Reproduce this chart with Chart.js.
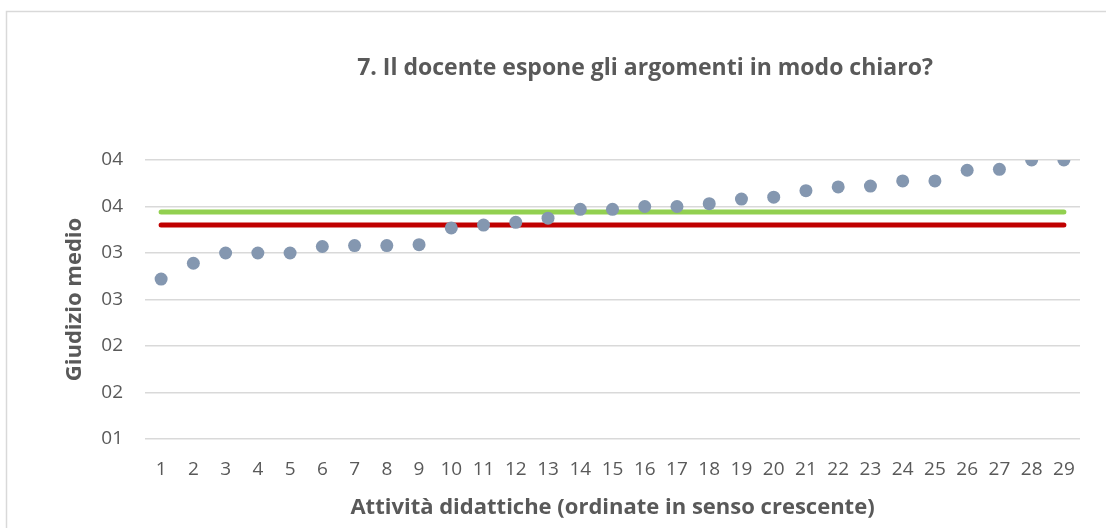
<!DOCTYPE html>
<html>
<head>
<meta charset="utf-8">
<script src="https://cdn.jsdelivr.net/npm/chart.js@4/dist/chart.umd.min.js"></script>
<style>
  html, body { margin: 0; padding: 0; background: #fff; overflow: hidden; }
  #wrap { width: 1106px; height: 528px; position: relative; }
</style>
</head>
<body>
<div id="wrap"><canvas id="chart" width="1106" height="528"></canvas></div>
<script>
// ===== dati =====
const titolo = "7. Il docente espone gli argomenti in modo chiaro?";
const attivita = ["1","2","3","4","5","6","7","8","9","10","11","12","13","14","15",
  "16","17","18","19","20","21","22","23","24","25","26","27","28","29"];
const giudizi = [2.72, 2.89, 3.0, 3.0, 3.0, 3.07, 3.08, 3.08, 3.09, 3.27, 3.30, 3.33, 3.375, 3.47, 3.47,
  3.50, 3.50, 3.53, 3.58, 3.60, 3.67, 3.71, 3.72, 3.775, 3.775, 3.89, 3.90, 4.0, 4.0];
const mediaVerde = 3.44;   // linea verde
const mediaRossa = 3.30;   // linea rossa
const yTicks = [1, 1.5, 2, 2.5, 3, 3.5, 4];

const ctx = document.getElementById("chart");

// cornice + titolo (disegnati sul canvas)
const cornice = {
  id: "cornice",
  beforeDraw(chart) {
    const c = chart.ctx;
    c.save();
    c.strokeStyle = "#d9d9d9";
    c.lineWidth = 1.5;
    c.beginPath();
    c.moveTo(6.5, 528);
    c.lineTo(6.5, 11.5);
    c.lineTo(1106, 11.5);
    c.stroke();
    c.restore();
  },
  afterDraw(chart) {
    const c = chart.ctx;
    c.save();
    c.font = "bold 23px 'Open Sans'";
    c.fillStyle = "#595959";
    c.textAlign = "center";
    c.textBaseline = "middle";
    c.fillText(titolo, 645, 68);
    c.restore();
  }
};

new Chart(ctx, {
  type: "line",
  data: {
    labels: attivita,
    datasets: [
      {
        label: "Giudizio medio",
        data: giudizi,
        showLine: false,
        pointRadius: 6.5,
        pointHoverRadius: 6.5,
        pointBackgroundColor: "#8497b0",
        pointBorderWidth: 0,
        borderColor: "#8497b0"
      },
      {
        label: "Media (verde)",
        data: [{ x: attivita[0], y: mediaVerde }, { x: attivita[attivita.length - 1], y: mediaVerde }],
        borderColor: "#92d050",
        borderWidth: 5,
        borderCapStyle: "round",
        pointRadius: 0
      },
      {
        label: "Media (rossa)",
        data: [{ x: attivita[0], y: mediaRossa }, { x: attivita[attivita.length - 1], y: mediaRossa }],
        borderColor: "#c00000",
        borderWidth: 5,
        borderCapStyle: "round",
        pointRadius: 0
      }
    ]
  },
  options: {
    responsive: false,
    animation: false,
    layout: { padding: { top: 160, right: 26, bottom: 7, left: 0 } },
    plugins: {
      legend: { display: false },
      tooltip: { enabled: false }
    },
    scales: {
      x: {
        type: "category",
        offset: true,
        grid: { display: false, drawTicks: false },
        border: { display: false },
        ticks: { color: "#595959", font: { family: "'Open Sans'", size: 19 }, padding: 19, autoSkip: false, maxRotation: 0 },
        title: {
          display: true,
          text: "Attività didattiche (ordinate in senso crescente)",
          color: "#595959",
          font: { family: "'Open Sans'", size: 22, weight: "bold" },
          padding: { top: 0, bottom: 0 }
        },
        afterFit(scale) { scale.height = 82; }
      },
      y: {
        min: 1,
        max: 4,
        afterBuildTicks(scale) { scale.ticks = yTicks.map(v => ({ value: v })); },
        grid: { color: "#d9d9d9", lineWidth: 1.5, drawTicks: false },
        border: { display: false },
        ticks: {
          color: "#595959",
          font: { family: "'Open Sans'", size: 19 },
          padding: 22,
          callback: v => "0" + Math.round(v)
        },
        title: {
          display: true,
          text: "Giudizio medio",
          color: "#595959",
          font: { family: "'Open Sans'", size: 22, weight: "bold" },
          padding: { top: 62, bottom: 0 }
        },
        afterFit(scale) { scale.width = 145; }
      }
    }
  },
  plugins: [cornice]
});
</script>
</body>
</html>
